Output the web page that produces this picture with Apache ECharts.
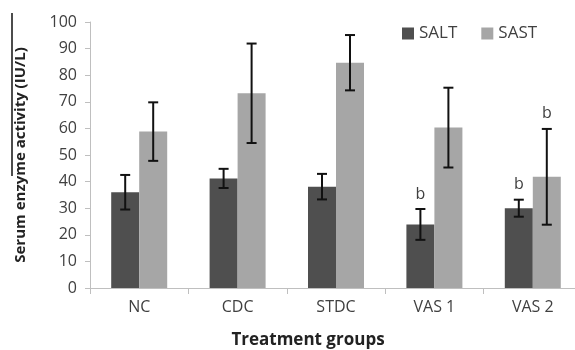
<!DOCTYPE html>
<html>
<head>
<meta charset="utf-8">
<script src="https://cdn.jsdelivr.net/npm/echarts@6/dist/echarts.min.js"></script>
<style>html,body{margin:0;padding:0;background:#fff}#c{width:575px;height:350px}</style>
</head>
<body>
<div id="c"></div>
<script>
var categories = ['NC', 'CDC', 'STDC', 'VAS 1', 'VAS 2'];
var saltValues = [36, 41.2, 38.1, 23.9, 30];
var saltErrors = [6.5, 3.6, 4.8, 5.8, 3.2];
var saltMarks = ['', '', '', 'b', 'b'];
var sastValues = [58.8, 73.2, 84.7, 60.3, 41.8];
var sastErrors = [11, 18.7, 10.4, 15, 18];
var sastMarks = ['', '', '', '', 'b'];
var yTicks = [0, 10, 20, 30, 40, 50, 60, 70, 80, 90, 100];

var FONT = 'Open Sans';
var BAR_W = 28;

function errData(vals, errs) {
  return vals.map(function (v, i) { return [i, v, errs[i]]; });
}
function errRender(offset, marks) {
  return function (params, api) {
    var i = api.value(0), v = api.value(1), e = api.value(2);
    var mark = marks[params.dataIndex];
    var top = api.coord([i, v + e]);
    var bot = api.coord([i, v - e]);
    var x = top[0] + offset;
    var cap = 5;
    var style = { stroke: '#111', lineWidth: 2 };
    var children = [
      { type: 'line', shape: { x1: x, y1: top[1], x2: x, y2: bot[1] }, style: style },
      { type: 'line', shape: { x1: x - cap, y1: top[1], x2: x + cap, y2: top[1] }, style: style },
      { type: 'line', shape: { x1: x - cap, y1: bot[1], x2: x + cap, y2: bot[1] }, style: style }
    ];
    if (mark) {
      children.push({ type: 'text', style: { text: mark, x: x, y: top[1] - 7, align: 'center', verticalAlign: 'bottom', fill: '#404040', font: '16px "' + FONT + '"' } });
    }
    return { type: 'group', children: children };
  };
}

var chart = echarts.init(document.getElementById('c'));
chart.setOption({
  animation: false,
  backgroundColor: '#fff',
  textStyle: { fontFamily: FONT },
  grid: { left: 90, top: 22, bottom: 62, right: -7, containLabel: false, outerBoundsMode: 'none' },
  legend: {
    data: ['SALT', 'SAST'],
    left: 397, top: 20,
    itemWidth: 12, itemHeight: 12, itemGap: 24,
    textStyle: { fontSize: 17, color: '#404040', fontFamily: FONT },
    icon: 'rect'
  },
  xAxis: {
    type: 'category',
    data: categories,
    name: 'Treatment groups',
    nameLocation: 'middle',
    nameGap: 44,
    nameTextStyle: { fontSize: 17, fontWeight: 'bold', color: '#222', fontFamily: FONT, padding: [0, 56, 0, 0] },
    axisLine: { lineStyle: { color: '#bfbfbf', width: 1 } },
    axisTick: { show: true, length: 6, lineStyle: { color: '#bfbfbf' } },
    axisLabel: { fontSize: 16, color: '#404040', margin: 11, fontFamily: FONT }
  },
  yAxis: {
    type: 'value',
    min: 0, max: 100, interval: 10,
    name: 'Serum enzyme activity (IU/L)',
    nameLocation: 'middle',
    nameGap: 62,
    nameTextStyle: { fontSize: 15, fontWeight: 'bold', color: '#222', fontFamily: FONT },
    axisLine: { show: true, lineStyle: { color: '#bfbfbf', width: 1 } },
    axisTick: { show: true, length: 5, lineStyle: { color: '#bfbfbf' } },
    splitLine: { show: false },
    axisLabel: { fontSize: 16, color: '#404040', margin: 13, fontFamily: FONT,
      formatter: function (v) { return yTicks.indexOf(v) >= 0 ? String(v) : ''; } }
  },
  series: [
    { name: 'SALT', type: 'bar', data: saltValues, barWidth: BAR_W, barGap: '0%', itemStyle: { color: '#4f4f4f' } },
    { name: 'SAST', type: 'bar', data: sastValues, barWidth: BAR_W, barGap: '0%', itemStyle: { color: '#a6a6a6' } },
    { type: 'custom', renderItem: errRender(-BAR_W / 2, saltMarks), data: errData(saltValues, saltErrors), encode: { x: 0, y: 1 }, z: 10, silent: true },
    { type: 'custom', renderItem: errRender(BAR_W / 2, sastMarks), data: errData(sastValues, sastErrors), encode: { x: 0, y: 1 }, z: 10, silent: true }
  ],
  graphic: [
    { type: 'line', shape: { x1: 12, y1: 13, x2: 12, y2: 176 }, style: { stroke: '#111', lineWidth: 1.5 } }
  ]
});
</script>
</body>
</html>
